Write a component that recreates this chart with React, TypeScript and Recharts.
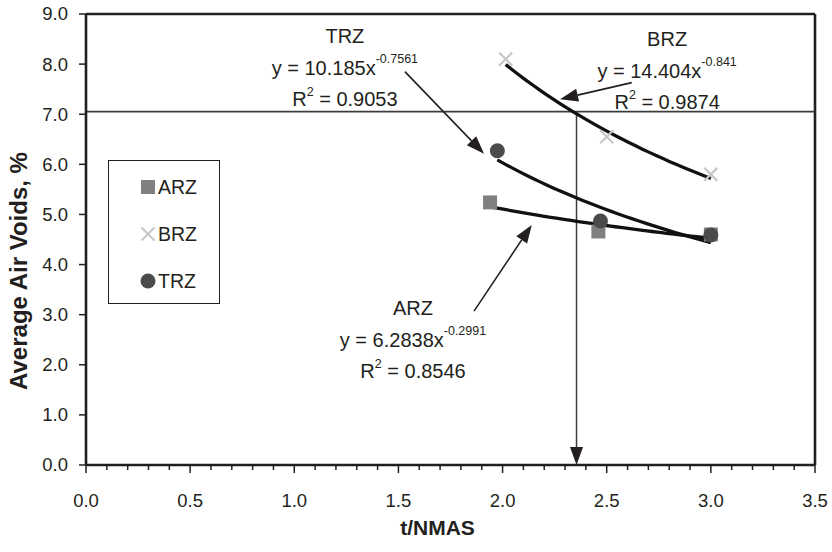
import React from 'react';
import {
  ComposedChart,
  Scatter,
  Line,
  XAxis,
  YAxis,
  ReferenceLine,
  ReferenceDot,
} from 'recharts';

// measured mix data, t/NMAS vs air voids
const arzX = [1.94, 2.46, 3.0];
const arzY = [5.24, 4.66, 4.6];
const brzX = [2.015, 2.5, 3.0];
const brzY = [8.1, 6.55, 5.8];
const trzX = [1.975, 2.47, 3.0];
const trzY = [6.27, 4.87, 4.59];

// power trendlines y = a * x^b
const fitNames = ['ARZ', 'BRZ', 'TRZ'];
const fitCoef = [6.2838, 14.404, 10.185];
const fitExp = [-0.2991, -0.841, -0.7561];
const fitR2 = ['0.8546', '0.9874', '0.9053'];

// where each fit note sits (data units) and where its arrow points
const noteAt = [
  { x: 1.57, y: 2.99 },
  { x: 2.79, y: 8.36 },
  { x: 1.243, y: 8.42 },
];
const arrowFrom = [
  { x: 1.863, y: 3.07 },
  { x: 2.62, y: 7.63 },
  { x: 1.531, y: 7.85 },
];
const arrowTo = [
  { x: 2.14, y: 4.79 },
  { x: 2.276, y: 7.3 },
  { x: 1.911, y: 6.21 },
];

// 7% target read across to the BRZ fit and down to t/NMAS
const targetVoids = 7.05;
const targetRatio = 2.355;

const xMajor = [0, 0.5, 1, 1.5, 2, 2.5, 3, 3.5];
const yTicks = [0, 1, 2, 3, 4, 5, 6, 7, 8, 9];
const xTicks = Array.from({ length: 36 }, (_, i) => +(i * 0.1).toFixed(1));

const FONT = '"Liberation Sans", Arial, Helvetica, sans-serif';
const INK = '#231f20';
const ARZ_COLOR = '#808080';
const BRZ_COLOR = '#c8c8c8';
const TRZ_COLOR = '#4b4b4d';

const toPoints = (xs: number[], ys: number[]) => xs.map((x, i) => ({ x, y: ys[i] }));

const fitCurve = (k: number, xs: number[]) => {
  const lo = Math.min(...xs);
  const hi = Math.max(...xs);
  const n = 30;
  return Array.from({ length: n + 1 }, (_, i) => {
    const x = lo + ((hi - lo) * i) / n;
    return { x, y: fitCoef[k] * Math.pow(x, fitExp[k]) };
  });
};

const seriesX = [arzX, brzX, trzX];

const Square = ({ cx, cy }: any) => (
  <rect x={cx - 7} y={cy - 7} width={14} height={14} fill={ARZ_COLOR} />
);
const Cross = ({ cx, cy }: any) => (
  <g stroke={BRZ_COLOR} strokeWidth={2.2}>
    <line x1={cx - 6.5} y1={cy - 6.5} x2={cx + 6.5} y2={cy + 6.5} />
    <line x1={cx - 6.5} y1={cy + 6.5} x2={cx + 6.5} y2={cy - 6.5} />
  </g>
);
const Dot = ({ cx, cy }: any) => <circle cx={cx} cy={cy} r={7.5} fill={TRZ_COLOR} />;

const Arrow = ({ x1, y1, x2, y2, width = 1.6, color = INK }: any) => {
  const dx = x2 - x1;
  const dy = y2 - y1;
  const len = Math.hypot(dx, dy) || 1;
  const ux = dx / len;
  const uy = dy / len;
  const hl = 18;
  const hw = 6.5;
  const bx = x2 - ux * hl;
  const by = y2 - uy * hl;
  return (
    <g>
      <line x1={x1} y1={y1} x2={bx} y2={by} stroke={color} strokeWidth={width} />
      <polygon
        points={`${x2},${y2} ${bx - uy * hw},${by + ux * hw} ${bx + uy * hw},${by - ux * hw}`}
        fill={INK}
      />
    </g>
  );
};

const FitNote = (k: number) => ({ cx, cy }: any) => (
  <g fontFamily={FONT} fill={INK} textAnchor="middle">
    <text x={cx} y={cy} fontSize={20}>{fitNames[k]}</text>
    <text x={cx} y={cy + 32} fontSize={20}>
      <tspan>{`y = ${fitCoef[k]}x`}</tspan>
      <tspan dy={-12} fontSize={12.5}>{fitExp[k]}</tspan>
    </text>
    <text x={cx} y={cy + 63} fontSize={20}>
      <tspan>R</tspan>
      <tspan dy={-10} fontSize={12.5}>2</tspan>
      <tspan dy={10}>{` = ${fitR2[k]}`}</tspan>
    </text>
  </g>
);

const XTick = ({ x, y, payload }: any) => {
  const v = payload.value;
  const major = xMajor.some((m) => Math.abs(m - v) < 1e-6);
  return (
    <g>
      <line x1={x} x2={x} y1={y} y2={y + (major ? 8 : 5)} stroke={INK} strokeWidth={1.5} />
      {major && (
        <text x={x} y={y + 41.5} textAnchor="middle" fontFamily={FONT} fontSize={18.5} fill={INK}>
          {v.toFixed(1)}
        </text>
      )}
    </g>
  );
};

const YTick = ({ x, y, payload }: any) => (
  <g>
    <line x1={x - 7} x2={x} y1={y} y2={y} stroke={INK} strokeWidth={1.5} />
    <text x={x - 18} y={y} dy="0.35em" textAnchor="end" fontFamily={FONT} fontSize={18.5} fill={INK}>
      {payload.value.toFixed(1)}
    </text>
  </g>
);

const legendItems = [
  { name: 'ARZ', marker: 'square' },
  { name: 'BRZ', marker: 'cross' },
  { name: 'TRZ', marker: 'dot' },
];

const LegendBox = () => (
  <div
    style={{
      position: 'absolute',
      left: 108,
      top: 160,
      width: 112,
      height: 144,
      border: `1.6px solid ${INK}`,
      boxSizing: 'border-box',
      background: '#fff',
    }}
  >
    <svg width={109} height={141}>
      {legendItems.map((it, i) => {
        const cy = 26 + i * 47;
        const cx = 39;
        return (
          <g key={it.name}>
            {it.marker === 'square' && <Square cx={cx} cy={cy} />}
            {it.marker === 'cross' && <Cross cx={cx} cy={cy} />}
            {it.marker === 'dot' && <Dot cx={cx} cy={cy} />}
            <text x={49} y={cy} dy="0.35em" fontFamily={FONT} fontSize={19.5} fill={INK}>
              {it.name}
            </text>
          </g>
        );
      })}
    </svg>
  </div>
);

export default function App() {
  return (
    <div style={{ position: 'absolute', left: 0, top: 0, width: 832, height: 552, background: '#fff' }}>
      <ComposedChart
        width={832}
        height={552}
        margin={{ top: 14, right: 17, bottom: 27, left: 26 }}
      >
        <XAxis
          type="number"
          dataKey="x"
          domain={[0, 3.5]}
          ticks={xTicks}
          interval={0}
          tickSize={0}
          tickMargin={0}
          tickLine={false}
          tick={<XTick />}
          height={60}
          axisLine={{ stroke: INK, strokeWidth: 2.6 }}
          allowDataOverflow
          label={{
            content: ({ viewBox }: any) => (
              <text
                x={viewBox.x + viewBox.width / 2 - 13}
                y={535}
                textAnchor="middle"
                fontFamily={FONT}
                fontWeight="bold"
                fontSize={21}
                fill={INK}
              >
                t/NMAS
              </text>
            ),
          }}
        />
        <YAxis
          type="number"
          dataKey="y"
          domain={[0, 9]}
          ticks={yTicks}
          interval={0}
          tickSize={0}
          tickMargin={0}
          tickLine={false}
          tick={<YTick />}
          width={60}
          axisLine={{ stroke: INK, strokeWidth: 2.6 }}
          allowDataOverflow
          label={{
            content: () => (
              <text
                x={27}
                y={271}
                transform="rotate(-90, 27, 271)"
                textAnchor="middle"
                fontFamily={FONT}
                fontWeight="bold"
                fontSize={24}
                fill={INK}
              >
                Average Air Voids,  %
              </text>
            ),
          }}
        />

        {/* plot frame top and right */}
        <ReferenceLine y={9} stroke={INK} strokeWidth={2.6} ifOverflow="visible" />
        <ReferenceLine x={3.5} stroke={INK} strokeWidth={2.6} ifOverflow="visible" />

        <ReferenceLine y={targetVoids} stroke="#3c3c3c" strokeWidth={1.8} />
        <ReferenceLine
          segment={[
            { x: targetRatio, y: targetVoids },
            { x: targetRatio, y: 0 },
          ]}
          shape={(p: any) => <Arrow {...p} width={1.5} color="#3c3c3c" />}
        />

        <Scatter name="ARZ" data={toPoints(arzX, arzY)} shape={<Square />} isAnimationActive={false} />
        <Scatter name="BRZ" data={toPoints(brzX, brzY)} shape={<Cross />} isAnimationActive={false} />
        <Scatter name="TRZ" data={toPoints(trzX, trzY)} shape={<Dot />} isAnimationActive={false} />

        {fitNames.map((n, k) => (
          <Line
            key={n}
            data={fitCurve(k, seriesX[k])}
            dataKey="y"
            type="monotone"
            stroke="#111"
            strokeWidth={3.3}
            dot={false}
            activeDot={false}
            legendType="none"
            isAnimationActive={false}
          />
        ))}

        {fitNames.map((n, k) => (
          <ReferenceLine
            key={`arrow-${n}`}
            segment={[arrowFrom[k], arrowTo[k]]}
            shape={(p: any) => <Arrow {...p} />}
          />
        ))}
        {fitNames.map((n, k) => (
          <ReferenceDot
            key={`note-${n}`}
            x={noteAt[k].x}
            y={noteAt[k].y}
            r={0}
            shape={FitNote(k)}
          />
        ))}
      </ComposedChart>
      <LegendBox />
    </div>
  );
}
